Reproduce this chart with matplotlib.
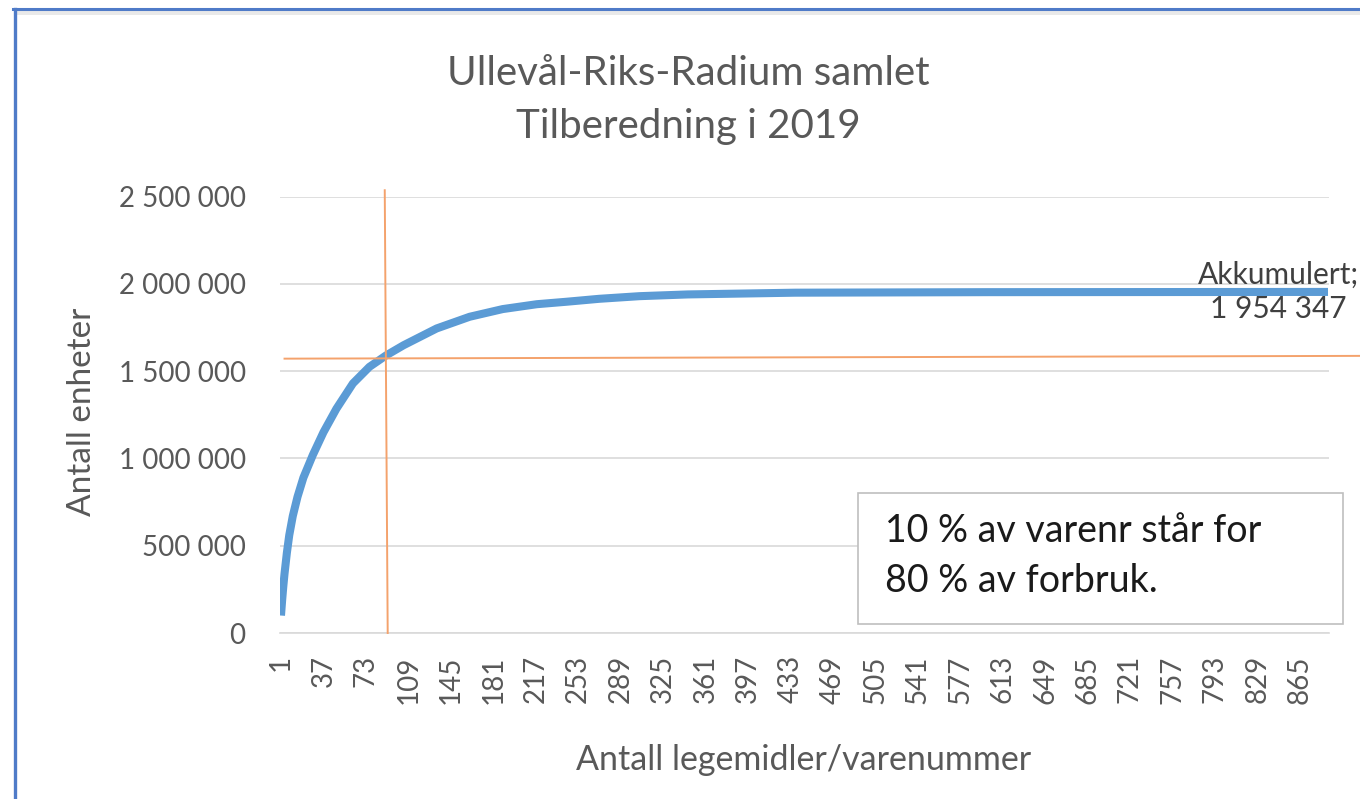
"""
Ullevål-Riks-Radium samlet, tilberedning 2019: cumulative units per item number.
Excel-style cumulative curve with the 10 % / 80 % cross lines and a note box.
"""
import matplotlib
matplotlib.use("Agg")
import matplotlib.pyplot as plt
from matplotlib.lines import Line2D
from matplotlib.patches import Rectangle
from matplotlib.ticker import FuncFormatter

plt.rcParams["font.family"] = ["Lato", "DejaVu Sans"]

# cumulative units at selected item numbers
ITEM_NO = [1, 2, 3, 4, 6, 8, 11, 15, 20, 28, 37, 48, 62, 76, 90, 105, 133, 161,
           189, 218, 243, 271, 305, 346, 437, 600, 889]
CUM_UNITS = [100_000, 190_000, 270_000, 340_000, 460_000, 560_000, 670_000,
             780_000, 890_000, 1_020_000, 1_150_000, 1_285_000, 1_430_000,
             1_525_000, 1_590_000, 1_649_000, 1_745_000, 1_812_000, 1_856_000,
             1_884_000, 1_898_000, 1_915_000, 1_930_000, 1_940_000, 1_950_000,
             1_953_000, 1_954_347]
N_ITEMS = 889
TOTAL = 1_954_347

# hand-drawn cross lines (item cut-off and unit cut-off)
CUT_ITEM = 90
CUT_UNITS = 1_580_000

X_TICKS = list(range(1, 866, 36))
Y_TICKS = [0, 500_000, 1_000_000, 1_500_000, 2_000_000, 2_500_000]

TITLE = "Ullevål-Riks-Radium samlet\nTilberedning i 2019"
X_LABEL = "Antall legemidler/varenummer"
Y_LABEL = "Antall enheter"
NOTE = "10 % av varenr står for\n80 % av forbruk."
DATA_LABEL = "Akkumulert;\n1 954 347"

BLUE = "#5B9BD5"
ORANGE = "#F4A26C"
GRID = "#D9D9D9"
TXT = "#595959"

W, H = 1360, 799
fig = plt.figure(figsize=(W / 100, H / 100), dpi=100)
fig.patch.set_facecolor("white")


def fx(px):
    return px / W


def fy(py):
    return 1 - py / H


ax = fig.add_axes([fx(280.4), fy(633), fx(1328.6) - fx(280.4), fy(196.7) - fy(633)])
ax.plot(ITEM_NO, CUM_UNITS, color=BLUE, lw=5.8, solid_capstyle="butt",
        solid_joinstyle="round", zorder=3)
ax.set_xlim(0.5, N_ITEMS + 0.5)
ax.set_ylim(0, 2_500_000)

ax.set_yticks(Y_TICKS)
ax.yaxis.set_major_formatter(FuncFormatter(lambda v, p: f"{int(v):,}".replace(",", " ")))
ax.set_xticks(X_TICKS)
ax.set_xticklabels([str(t) for t in X_TICKS], rotation=90)
ax.tick_params(axis="y", length=0, pad=25, labelsize=20, labelcolor=TXT)
ax.tick_params(axis="x", length=0, pad=16, labelsize=20, labelcolor=TXT)
ax.grid(True, axis="y", color=GRID, lw=1.2)
ax.set_axisbelow(True)
for side in ["top", "right", "left"]:
    ax.spines[side].set_visible(False)
ax.spines["bottom"].set_color(GRID)
ax.spines["bottom"].set_linewidth(1.2)

# cross lines
ax.plot([CUT_ITEM - 1, CUT_ITEM + 1.5], [2_537_000, 0], color=ORANGE, lw=1.4,
        clip_on=False, zorder=4)
ax.plot([4, 920], [CUT_UNITS - 8_000, CUT_UNITS + 8_000], color=ORANGE, lw=1.4,
        clip_on=False, zorder=4)

ax.text(N_ITEMS - 42, TOTAL, DATA_LABEL, ha="center", va="center",
        fontsize=21.5, color="#404040", linespacing=1.3, zorder=5)

fig.text(fx(688), fy(100), TITLE, ha="center", va="center", fontsize=29,
         color=TXT, linespacing=1.55)
fig.text(fx(804), fy(760), X_LABEL, ha="center", va="center", fontsize=24.5, color=TXT)
fig.text(fx(82), fy(412), Y_LABEL, ha="center", va="center", fontsize=24,
         color=TXT, rotation=90)

# note box
fig.add_artist(Rectangle((fx(858), fy(624)), fx(1343) - fx(858), fy(493) - fy(624),
                         transform=fig.transFigure, facecolor="white",
                         edgecolor="#BFBFBF", lw=1.2, zorder=6))
fig.text(fx(885), fy(556), NOTE, ha="left", va="center", fontsize=27,
         color="#1A1A1A", linespacing=1.45, zorder=7)

# screenshot frame
fig.add_artist(Rectangle((fx(16), fy(15)), 1, fy(10) - fy(15), transform=fig.transFigure,
                         facecolor="#E9E9E9", edgecolor="none"))
fig.add_artist(Line2D([fx(13), 1], [fy(9), fy(9)], color="#4F7BC8", lw=2.2))
fig.add_artist(Line2D([fx(14.5), fx(14.5)], [fy(9), 0], color="#4F7BC8", lw=2.4))

fig.savefig("out.png", dpi=100, facecolor="white")
